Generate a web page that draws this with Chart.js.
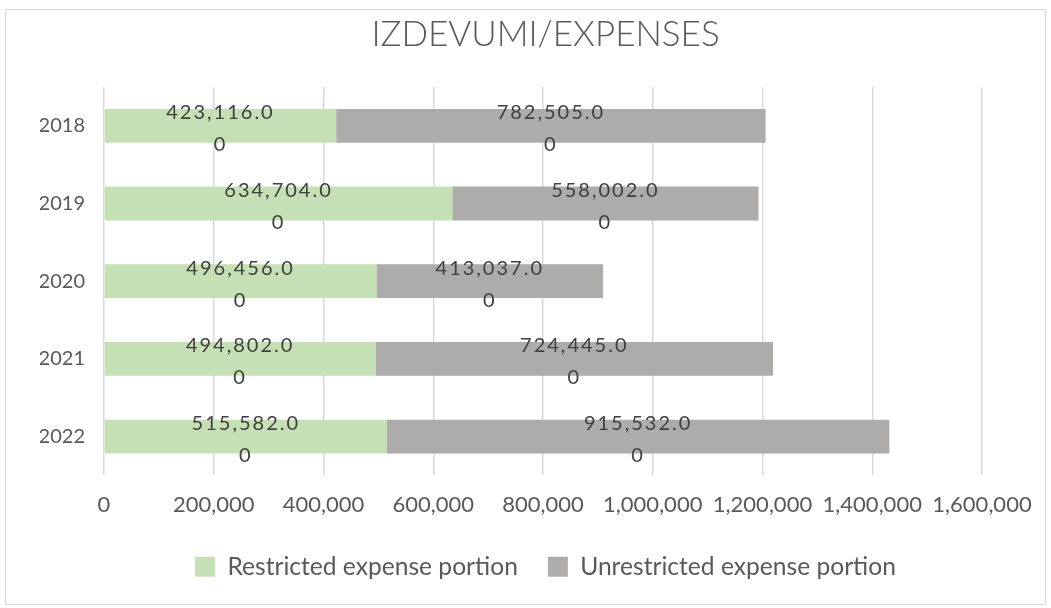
<!DOCTYPE html>
<html>
<head>
<meta charset="utf-8">
<script src="https://cdn.jsdelivr.net/npm/chart.js@4.4.1/dist/chart.umd.min.js"></script>
<style>
    html, body { margin: 0; padding: 0; background: #fff; }
    #wrap { position: relative; width: 1051px; height: 608px; }
    #frame { position: absolute; left: 5px; top: 9px; width: 1039px; height: 594px; border: 1px solid #d9d9d9; pointer-events: none; }
</style>
</head>
<body>
<div id="wrap">
    <canvas id="myChart" width="1051" height="608"></canvas>
    <div id="frame"></div>
</div>
<script>
// Chart data
const years = ['2018', '2019', '2020', '2021', '2022'];
const restricted = [423116, 634704, 496456, 494802, 515582];
const unrestricted = [782505, 558002, 413037, 724445, 915532];
const xTicks = [0, 200000, 400000, 600000, 800000, 1000000, 1200000, 1400000, 1600000];

const fontName = 'Lato, "Open Sans", sans-serif';

// Value labels, wrapped the way Excel wrapped them ("423,116.0" / "0")
const valueLabels = {
    id: 'valueLabels',
    afterDatasetsDraw(chart) {
        const ctx = chart.ctx;
        ctx.save();
        ctx.font = '20px ' + fontName;
        ctx.fillStyle = '#404040';
        ctx.textAlign = 'center';
        ctx.textBaseline = 'middle';
        ctx.letterSpacing = '2px';
        chart.data.datasets.forEach((ds, i) => {
            const meta = chart.getDatasetMeta(i);
            meta.data.forEach((bar, j) => {
                const text = ds.data[j].toLocaleString('en-US', { minimumFractionDigits: 2 });
                const cx = (bar.x + bar.base) / 2;
                ctx.fillText(text.slice(0, -1), cx, bar.y - 13);
                ctx.fillText(text.slice(-1), cx, bar.y + 19);
            });
        });
        ctx.restore();
    }
};

const ctx = document.getElementById('myChart');

new Chart(ctx, {
    type: 'bar',
    data: {
        labels: years,
        datasets: [{
            label: 'Restricted expense portion',
            data: restricted,
            backgroundColor: '#c5e0b4'
        }, {
            label: 'Unrestricted expense portion',
            data: unrestricted,
            backgroundColor: '#aeabab'
        }]
    },
    options: {
        indexAxis: 'y',
        responsive: false,
        animation: false,
        layout: { padding: { left: 40, right: 0, top: 0, bottom: 19 } },
        datasets: {
            bar: { categoryPercentage: 1, barPercentage: 0.435 }
        },
        plugins: {
            title: {
                display: true,
                text: 'IZDEVUMI/EXPENSES',
                color: '#595959',
                font: { family: fontName, size: 35, weight: '300' },
                padding: { top: 14, bottom: 31 }
            },
            legend: {
                position: 'bottom',
                labels: {
                    color: '#595959',
                    font: { family: fontName, size: 24.6 },
                    boxWidth: 20,
                    boxHeight: 20,
                    padding: 30
                }
            },
            tooltip: { enabled: false }
        },
        scales: {
            x: {
                stacked: true,
                min: 0,
                max: 1600000,
                afterBuildTicks: scale => { scale.ticks = xTicks.map(v => ({ value: v })); },
                afterFit: scale => { scale.height = 49; },
                grid: { color: '#d9d9d9', lineWidth: 1.5, drawTicks: false },
                border: { display: false },
                ticks: {
                    color: '#595959',
                    font: { family: fontName, size: 22, lineHeight: 2.64 },
                    padding: 0,
                    maxRotation: 0,
                    autoSkip: false,
                    callback: v => v.toLocaleString('en-US')
                }
            },
            y: {
                stacked: true,
                afterFit: scale => { scale.width = 64; },
                grid: { display: false },
                border: { display: false },
                ticks: {
                    color: '#595959',
                    font: { family: fontName, size: 20 },
                    padding: 11
                }
            },
            // empty right-hand axis, only keeps room for the last x tick label
            yRight: {
                position: 'right',
                afterFit: scale => { scale.width = 69; },
                grid: { display: false },
                border: { display: false },
                ticks: { display: false }
            }
        }
    },
    plugins: [valueLabels]
});
</script>
</body>
</html>
